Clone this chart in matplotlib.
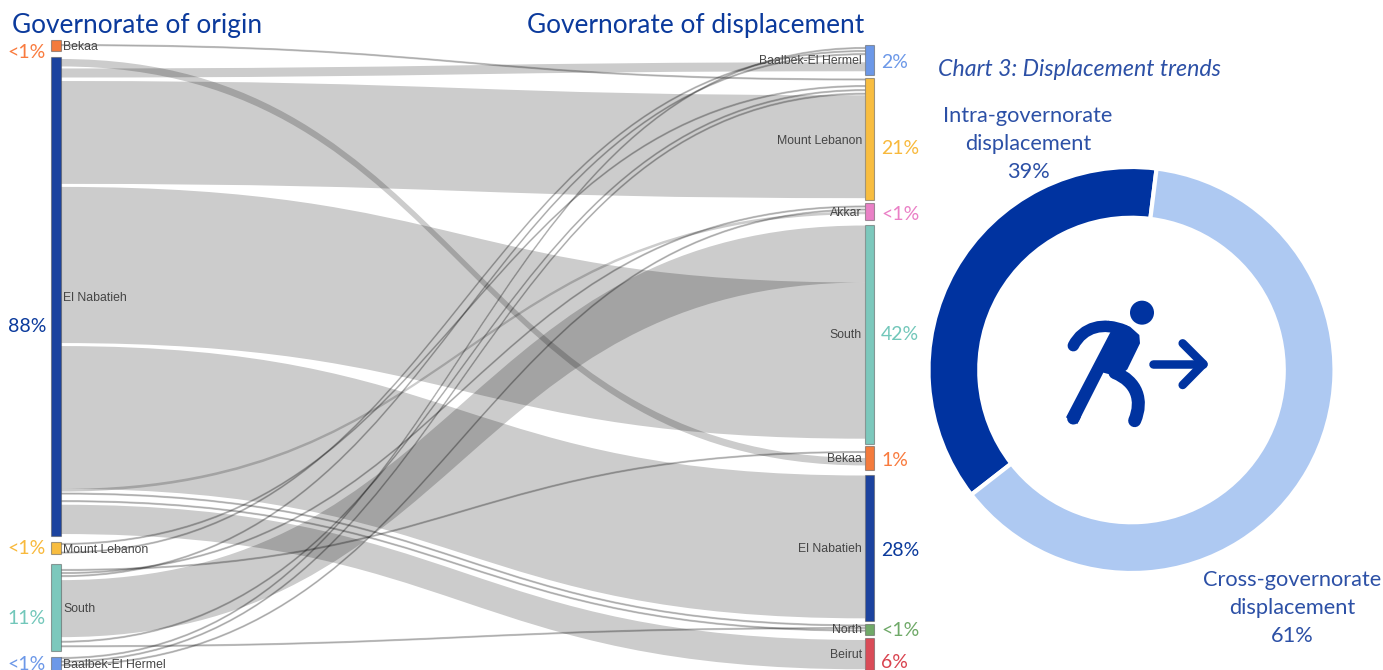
import matplotlib
matplotlib.use("Agg")
import matplotlib.pyplot as plt
from matplotlib.patches import PathPatch, Rectangle, Circle, Polygon
from matplotlib.path import Path

W, H = 1383, 670
FONT = "Lato"
NAVY = "#0B3A9C"
TEXT = "#2C50A6"

# ---- data ----
left_nodes = ["Bekaa", "El Nabatieh", "Mount Lebanon", "South", "Baalbek-El Hermel"]
left_pct = ["<1%", "88%", "<1%", "11%", "<1%"]
right_nodes = ["Baalbek-El Hermel", "Mount Lebanon", "Akkar", "South", "Bekaa",
               "El Nabatieh", "North", "Beirut"]
right_pct = ["2%", "21%", "<1%", "42%", "1%", "28%", "<1%", "6%"]
node_colors = {"Bekaa": "#F47B3C", "El Nabatieh": "#1C439F", "Mount Lebanon": "#F8BD40",
               "South": "#7CC8BC", "Baalbek-El Hermel": "#6C98E8", "Akkar": "#EA80C6",
               "North": "#70A968", "Beirut": "#DA4C58"}
pct_colors = {"Bekaa": "#F97B3E", "El Nabatieh": "#0B3A9C", "Mount Lebanon": "#F8B93C",
              "South": "#72C7BA", "Baalbek-El Hermel": "#6C98E8", "Akkar": "#EA80C6",
              "North": "#6FA968", "Beirut": "#D9434F"}

flow_src = ["Bekaa", "El Nabatieh", "El Nabatieh", "El Nabatieh", "El Nabatieh", "El Nabatieh",
            "El Nabatieh", "El Nabatieh", "El Nabatieh", "El Nabatieh",
            "Mount Lebanon", "Mount Lebanon", "South", "South", "South", "South", "South", "South",
            "Baalbek-El Hermel", "Baalbek-El Hermel", "Baalbek-El Hermel"]
flow_dst = ["Mount Lebanon", "Bekaa", "Baalbek-El Hermel", "Mount Lebanon", "South", "El Nabatieh",
            "Akkar", "North", "North", "Beirut",
            "Mount Lebanon", "Baalbek-El Hermel", "Bekaa", "Akkar", "Baalbek-El Hermel", "South",
            "Mount Lebanon", "North",
            "Baalbek-El Hermel", "Mount Lebanon", "Akkar"]
flow_val = [0.22, 1.4, 1.7, 19.3, 29.3, 26.8,
            0.5, 0.22, 0.22, 5.5,
            0.22, 0.22, 0.22, 0.22, 0.22, 10.7,
            0.22, 0.22,
            0.22, 0.22, 0.22]

# ---- layout: order of the flows in each node and the blank space before each (px) ----
PX = 5.33
left_stack = {
    "Bekaa": (40, [(0, 4.5)], 11),
    "El Nabatieh": (57, [(1, 2), (2, 2), (3, 3.5), (4, 3), (5, 3), (6, 0), (7, 1.4), (8, 6.4), (9, 3)], 479),
    "Mount Lebanon": (542, [(10, 1.4), (11, 7.4)], 12),
    "South": (564, [(12, 5.4), (13, 1.9), (14, 1.9), (15, 3.4), (16, 4), (17, 3.4)], 87),
    "Baalbek-El Hermel": (657, [(18, 0.4), (19, 2.4), (20, 2.4)], 16),
}
right_stack = {
    "Baalbek-El Hermel": (45, [(18, 2.4), (11, 1.9), (14, 1.9), (2, 7.5)], 30),
    "Mount Lebanon": (78, [(0, 0.9), (10, 5.4), (16, 2.9), (19, 2.4), (3, 1)], 122),
    "Akkar": (203, [(13, 2.9), (20, 1.9), (6, 1.4)], 17),
    "South": (225, [(15, 0.5), (4, 0)], 219),
    "Bekaa": (446, [(12, 5.4), (1, 5.4)], 24),
    "El Nabatieh": (475, [(5, 0.5)], 146),
    "North": (624, [(7, 0.9), (17, 1.4), (8, 1.4)], 11),
    "Beirut": (638, [(9, 2)], 32),
}
LX0, LX1 = 51, 61
RX0, RX1 = 865, 874


def stack_positions(stack):
    out = {}
    for node, (top, items, _) in stack.items():
        y = top
        for idx, pad in items:
            y += pad
            out[idx] = y
            y += flow_val[idx] * PX
    return out


ly = stack_positions(left_stack)
ry = stack_positions(right_stack)

fig = plt.figure(figsize=(W / 100, H / 100), dpi=100, facecolor="white")
ax = fig.add_axes([0, 0, 1, 1])
ax.set_xlim(0, W)
ax.set_ylim(H, 0)
ax.axis("off")

# ---- flows ----
xm = (LX1 + RX0) / 2
for i, v in enumerate(flow_val):
    t = v * PX
    y0, y1 = ly[i], ry[i]
    verts = [(LX1, y0), (xm, y0), (xm, y1), (RX0, y1),
             (RX0, y1 + t), (xm, y1 + t), (xm, y0 + t), (LX1, y0 + t), (LX1, y0)]
    codes = [Path.MOVETO, Path.CURVE4, Path.CURVE4, Path.CURVE4,
             Path.LINETO, Path.CURVE4, Path.CURVE4, Path.CURVE4, Path.CLOSEPOLY]
    thin = t < 2
    ax.add_patch(PathPatch(Path(verts, codes), facecolor=(0, 0, 0, 0.2),
                           edgecolor=(0, 0, 0, 0.2) if thin else "none",
                           lw=0.7 if thin else 0, zorder=2))

# ---- nodes ----
for stack, x0, x1 in ((left_stack, LX0, LX1), (right_stack, RX0, RX1)):
    for node, (top, _, h) in stack.items():
        ax.add_patch(Rectangle((x0, top), x1 - x0, h, facecolor=node_colors[node],
                               edgecolor="#55555588", lw=0.8, zorder=3))

# ---- labels ----
left_label_y = [47, 298, 550, 609, 665]
left_pct_y = [52, 327, 549, 618, 664]
right_label_y = [61, 141, 213, 335, 459, 549, 630, 655]
right_pct_y = [62, 149, 214, 335, 460, 550, 631, 662]

for name, pct, ytxt, yp in zip(left_nodes, left_pct, left_label_y, left_pct_y):
    ax.text(63, ytxt, name, family="Liberation Sans", fontsize=8.8, color="#454545",
            va="center", ha="left", zorder=5)
    ax.text(46, yp, pct, family=FONT, fontsize=14, color=pct_colors[name],
            va="center", ha="right", zorder=5)
for name, pct, ytxt, yp in zip(right_nodes, right_pct, right_label_y, right_pct_y):
    ax.text(862, ytxt, name, family="Liberation Sans", fontsize=8.8, color="#454545",
            va="center", ha="right", zorder=5)
    ax.text(881, yp, pct, family=FONT, fontsize=14, color=pct_colors[name],
            va="center", ha="left", zorder=5)

ax.text(12, 26, "Governorate of origin", family=FONT, fontsize=18.9, color=NAVY, va="center", ha="left")
ax.text(527, 26, "Governorate of displacement", family=FONT, fontsize=18.9, color=NAVY, va="center", ha="left")
ax.text(938, 70, "Chart 3: Displacement trends", family=FONT, style="italic", fontsize=16.7,
        color=TEXT, va="center", ha="left")
ax.text(1028, 144, "Intra-governorate\ndisplacement\n39%", family=FONT, fontsize=15.7, color=TEXT,
        va="center", ha="center", linespacing=1.5)
ax.text(1292, 608, "Cross-governorate\ndisplacement\n61%", family=FONT, fontsize=15.7, color=TEXT,
        va="center", ha="center", linespacing=1.5)

# ---- donut (drawn shares as measured on the ring) ----
donut_values = [37.5, 62.5]
donut_colors = ["#0033A0", "#AEC9F2"]
cx, cy, R = 1131.5, 370, 203
dax = fig.add_axes([(cx - R) / W, 1 - (cy + R) / H, 2 * R / W, 2 * R / H])
dax.pie(donut_values, colors=donut_colors, startangle=82.9, counterclock=True, radius=1,
        wedgeprops=dict(width=0.25, edgecolor="white", linewidth=3))
dax.set_xlim(-1, 1)
dax.set_ylim(-1, 1)
dax.set_aspect("equal")
dax.axis("off")

# ---- icon (pixels of the running-person pictogram) ----
ICON = "#0033A0"


def ip(zx, zy):
    return (1040 + zx / 3, 280 + zy / 3)


ax2 = fig.add_axes([0, 0, 1, 1], zorder=10)
ax2.set_xlim(0, W)
ax2.set_ylim(H, 0)
ax2.axis("off")
ax2.add_patch(Circle(ip(306, 98), 12, fc=ICON, ec="none"))
ax2.add_patch(Polygon([ip(*p) for p in [(205, 122), (270, 140), (298, 165), (300, 190), (262, 268),
                                        (235, 290), (190, 278), (112, 432), (78, 412), (212, 155)]],
                      fc=ICON, ec="none"))


def stroke(pts, codes, lw):
    ax2.add_patch(PathPatch(Path([ip(*p) for p in pts], codes), fc="none", ec=ICON,
                            lw=lw, capstyle="round", joinstyle="round"))


LW = 0.72
stroke([(100, 197), (130, 140), (190, 125), (255, 152)],
       [Path.MOVETO, Path.CURVE4, Path.CURVE4, Path.CURVE4], 11.5 * LW)
stroke([(100, 415), (105, 405)], [Path.MOVETO, Path.LINETO], 12.5 * LW)
stroke([(225, 278), (290, 305), (310, 360), (284, 422)],
       [Path.MOVETO, Path.CURVE4, Path.CURVE4, Path.CURVE4], 13 * LW)
stroke([(338, 252), (490, 252)], [Path.MOVETO, Path.LINETO], 8.5 * LW)
stroke([(428, 190), (490, 252), (428, 315)], [Path.MOVETO, Path.LINETO, Path.LINETO], 8.5 * LW)

fig.savefig("out.png", dpi=100, facecolor="white")
